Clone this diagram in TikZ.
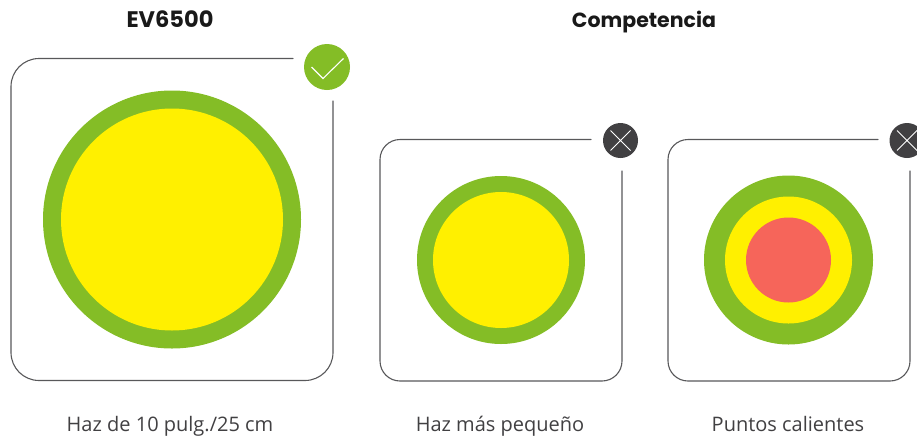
\documentclass[tikz,border=0pt]{standalone}
\usepackage{fontspec}
\setmainfont{Open Sans}
\newfontfamily\titlefont{Poppins}
\definecolor{evgreen}{HTML}{84BD26}
\definecolor{evyellow}{HTML}{FFF000}
\definecolor{evred}{HTML}{F6655A}
\definecolor{evdark}{HTML}{414042}
\definecolor{evline}{HTML}{58585A}
\tikzset{
  disc/.style={circle,inner sep=0pt,minimum size=#1,draw=none},
  frameline/.style={draw=evline,line width=1.1pt,line cap=round},
  mark stroke/.style={draw=white,line width=1pt},
  title/.style={font=\titlefont\fontsize{20.5}{24}\selectfont\bfseries,text=black!90,inner sep=0pt,anchor=base},
  caption/.style={font=\fontsize{20}{24}\selectfont,text=evdark,inner sep=0pt,anchor=base}
}
\begin{document}
\begin{tikzpicture}[x=1pt,y=-1pt]
\useasboundingbox (0,0) rectangle (917,437);
\clip (0,0) rectangle (917,437);
% titles
\node[title,font=\titlefont\fontsize{22.5}{24}\selectfont\bfseries] (t1) at (170,27) {EV6500};
\node[title] (t2) at (644,27) {Competencia};
% frames
\draw[frameline,rounded corners=28pt] (293,58.5) -- (11,58.5) -- (11,380.5) -- (333,380.5) -- (333,101);
\draw[frameline,rounded corners=20pt] (591,139.5) -- (380,139.5) -- (380,381) -- (622,381) -- (622,171);
\draw[frameline,rounded corners=20pt] (878,139.5) -- (668,139.5) -- (668,381) -- (910,381) -- (910,171);
% beam 1
\node[disc=258pt,fill=evgreen] (a1) at (172,219.5) {};
\node[disc=222pt,fill=evyellow] (a2) at (172,219.5) {};
% beam 2
\node[disc=168pt,fill=evgreen] (b1) at (501,260) {};
\node[disc=136pt,fill=evyellow] (b2) at (501,260) {};
% beam 3
\node[disc=169pt,fill=evgreen] (c1) at (788.5,260) {};
\node[disc=127pt,fill=evyellow] (c2) at (788.5,260) {};
\node[disc=85pt,fill=evred] (c3) at (788.5,260) {};
% badges
\node[disc=46pt,fill=evgreen] (ok) at (327,67) {};
\draw[mark stroke,line width=1.1pt] (311.5,67) -- (323,78.5) -- (343.5,58.5);
\node[disc=35pt,fill=evdark] (no1) at (620.5,140.5) {};
\draw[mark stroke] (610.5,130.5) -- (630.5,150.5) (630.5,130.5) -- (610.5,150.5);
\node[disc=35pt,fill=evdark] (no2) at (907,140.5) {};
\draw[mark stroke] (897,130.5) -- (917,150.5) (917,130.5) -- (897,150.5);
% captions
\node[caption] (l1) at (170,431) {Haz de 10 pulg./25 cm};
\node[caption] (l2) at (500,431) {Haz más pequeño};
\node[caption] (l3) at (788,431) {Puntos calientes};
\end{tikzpicture}
\end{document}
